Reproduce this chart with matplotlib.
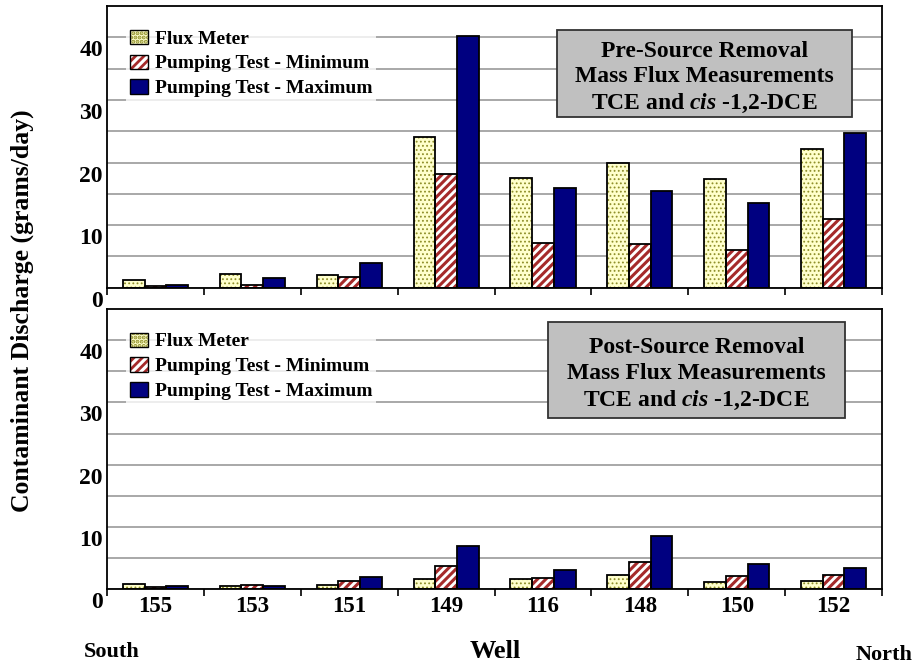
import matplotlib
matplotlib.use("Agg")
import matplotlib.pyplot as plt
import matplotlib.transforms as mtransforms
from matplotlib.patches import Patch, Rectangle
import numpy as np

wells = ["155", "153", "151", "149", "116", "148", "150", "152"]

pre_flux = [1.2, 2.2, 2.0, 24.0, 17.6, 20.0, 17.3, 22.1]
pre_min = [0.2, 0.4, 1.7, 18.1, 7.2, 7.0, 6.1, 11.0]
pre_max = [0.5, 1.5, 4.0, 40.2, 15.9, 15.4, 13.6, 24.7]

post_flux = [0.85, 0.6, 0.65, 1.7, 1.6, 2.3, 1.1, 1.3]
post_min = [0.3, 0.7, 1.35, 3.7, 1.8, 4.4, 2.1, 2.3]
post_max = [0.5, 0.5, 2.0, 7.0, 3.1, 8.5, 4.0, 3.5]

series_names = ["Flux Meter", "Pumping Test - Minimum", "Pumping Test - Maximum"]

plt.rcParams["font.family"] = ["Liberation Serif", "DejaVu Serif"]
plt.rcParams["font.weight"] = "bold"
plt.rcParams["mathtext.fontset"] = "custom"
plt.rcParams["mathtext.it"] = "Liberation Serif:italic:bold"
plt.rcParams["mathtext.rm"] = "Liberation Serif:bold"
plt.rcParams["hatch.linewidth"] = 2.0

# face colour, hatch, hatch colour, hatch line width
styles = [("#ffffcc", "....", "#8f8f2a", 0.8),
          ("white", "////", "#a52a2a", 2.2),
          ("#000080", None, "#000080", 1.0)]

fig = plt.figure(figsize=(9.18, 6.7), dpi=100)
ax_top = fig.add_axes([0.1166, 0.5706, 0.8442, 0.4204])
ax_bot = fig.add_axes([0.1166, 0.1204, 0.8442, 0.4184])

x = np.arange(len(wells))
w = 0.224


def hatched(p, hlw):
    if hasattr(p, "set_hatch_linewidth"):
        p.set_hatch_linewidth(hlw)
    return p


def draw_panel(ax, data, title_lines, box):
    for i, vals in enumerate(data):
        fc, hatch, hc, hlw = styles[i]
        pos = x + (i - 1) * w
        if hatch:
            bars = ax.bar(pos, vals, w, color=fc, hatch=hatch, edgecolor=hc, linewidth=0, zorder=3)
            for b in bars:
                hatched(b, hlw)
            ax.bar(pos, vals, w, fill=False, edgecolor="black", linewidth=1.3, zorder=4)
        else:
            ax.bar(pos, vals, w, color=fc, edgecolor="black", linewidth=1.3, zorder=3)

    ax.set_xlim(-0.5, len(wells) - 0.5)
    ax.set_ylim(0, 45)
    ax.set_yticks([0, 10, 20, 30, 40])
    ax.set_yticks(np.arange(5, 45, 5), minor=True)
    ax.grid(True, which="both", axis="y", color="#a8a8a8", linewidth=1.4, zorder=0)
    ax.tick_params(axis="y", which="both", length=0, labelsize=17, pad=3)
    # labels sit a bit below their lines in the original
    off = mtransforms.ScaledTranslation(0, -0.11, fig.dpi_scale_trans)
    for lab in ax.get_yticklabels():
        lab.set_transform(lab.get_transform() + off)

    ax.set_xticks(np.arange(-0.5, len(wells)), minor=True)
    ax.set_xticks(x)
    ax.tick_params(axis="x", which="major", length=0, labelsize=16.5, pad=5)
    ax.tick_params(axis="x", which="minor", length=5, width=1.2, direction="out")
    for s in ax.spines.values():
        s.set_linewidth(1.3)
        s.set_zorder(5)

    handles = []
    for fc, hatch, hc, hlw in styles:
        if hatch:
            handles.append((hatched(Patch(facecolor=fc, hatch=hatch, edgecolor=hc, linewidth=0), hlw),
                            Patch(fill=False, edgecolor="black", linewidth=1.0)))
        else:
            handles.append(Patch(facecolor=fc, edgecolor="black", linewidth=1.0))
    leg = ax.legend(handles, series_names, loc="upper left", bbox_to_anchor=(0.025, 0.93),
                    borderaxespad=0, fontsize=14, frameon=True, fancybox=False,
                    handlelength=0.9, handleheight=0.75, handletextpad=0.35,
                    labelspacing=0.36, borderpad=0.2)
    leg.get_frame().set_edgecolor("white")
    leg.get_frame().set_linewidth(0)
    leg.set_zorder(6)

    x0, y0, x1, y1 = box
    ax.add_patch(Rectangle((x0, y0), x1 - x0, y1 - y0, transform=ax.transAxes,
                           facecolor="#c0c0c0", edgecolor="#333333", linewidth=1.3,
                           zorder=7, clip_on=False))
    ax.text((x0 + x1) / 2, (y0 + y1) / 2 - 0.016, title_lines, transform=ax.transAxes,
            ha="center", va="center", fontsize=17, fontweight="bold",
            linespacing=1.28, zorder=8)


draw_panel(ax_top, [pre_flux, pre_min, pre_max],
           "Pre-Source Removal\nMass Flux Measurements\nTCE and $\\mathit{cis}$ -1,2-DCE",
           (0.581, 0.606, 0.961, 0.915))
draw_panel(ax_bot, [post_flux, post_min, post_max],
           "Post-Source Removal\nMass Flux Measurements\nTCE and $\\mathit{cis}$ -1,2-DCE",
           (0.569, 0.611, 0.952, 0.954))

ax_top.set_xticklabels([])
ax_bot.set_xticklabels(wells)

fig.text(0.024, 0.537, "Contaminant Discharge (grams/day)", rotation=90, ha="center",
         va="center", fontsize=18.5, fontweight="bold")
fig.text(0.122, 0.027, "South", ha="center", va="center", fontsize=16, fontweight="bold")
fig.text(0.539, 0.027, "Well", ha="center", va="center", fontsize=19, fontweight="bold")
fig.text(0.963, 0.022, "North", ha="center", va="center", fontsize=16, fontweight="bold")

fig.savefig("out.png", dpi=100)
